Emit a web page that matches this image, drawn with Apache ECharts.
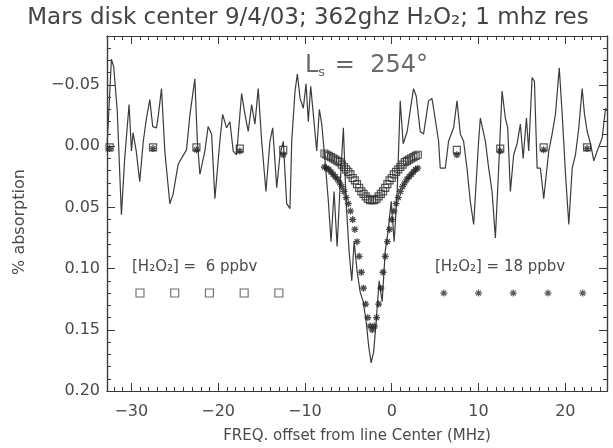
<!DOCTYPE html>
<html><head><meta charset="utf-8">
<script src="https://cdn.jsdelivr.net/npm/echarts@6.0.0/dist/echarts.min.js"></script>
<style>html,body{margin:0;padding:0;background:#fff}#c{width:613px;height:448px}</style>
</head><body><div id="c"></div>
<script>
// ---- data ----
const specX = [-32.78,-32.29,-32.03,-31.62,-31.14,-30.76,-30.26,-29.98,-29.80,-29.43,
-29.03,-28.62,-28.25,-27.87,-27.53,-27.10,-26.89,-26.52,-26.14,-25.56,
-25.18,-24.61,-24.22,-23.64,-23.26,-22.68,-22.39,-22.10,-21.53,-21.15,
-20.75,-20.37,-19.80,-19.48,-19.02,-18.64,-18.26,-17.87,-17.29,-16.91,
-16.53,-16.14,-15.76,-15.38,-14.98,-14.49,-14.03,-13.71,-13.25,-12.87,
-12.49,-12.10,-11.72,-11.52,-11.14,-10.87,-10.56,-10.18,-9.87,-9.61,
-9.33,-9.03,-8.64,-8.34,-8.06,-7.68,-7.30,-6.99,-6.64,-6.29,
-5.95,-5.57,-5.26,-4.91,-4.60,-4.33,-3.99,-3.64,-3.29,-2.95,
-2.66,-2.37,-2.08,-1.79,-1.45,-1.10,-0.75,-0.41,-0.06,0.28,
0.63,0.98,1.15,1.32,1.78,2.13,2.51,2.82,3.28,3.67,
4.24,4.63,4.82,5.40,5.59,6.17,6.55,7.13,7.52,7.90,
8.28,8.67,9.05,9.44,10.01,10.21,10.79,11.17,11.56,11.94,
12.32,12.71,13.09,13.36,13.67,14.05,14.44,14.82,15.14,15.52,
15.78,16.17,16.44,16.75,17.13,17.51,18.09,18.48,18.86,19.30,
19.64,20.02,20.40,20.79,21.17,21.55,21.94,22.21,22.52,22.90,
23.28,23.67,24.25,24.63,24.80];
const specY = [-0.002,-0.071,-0.065,-0.029,0.056,0.010,-0.034,0.004,-0.011,0.004,
0.029,-0.004,-0.023,-0.038,-0.016,-0.015,-0.025,-0.047,0.004,0.047,
0.039,0.015,0.010,0.003,-0.025,-0.055,-0.004,0.023,0.004,-0.016,
-0.010,0.043,-0.004,-0.026,-0.015,-0.020,0.004,0.007,-0.043,-0.026,
-0.012,-0.034,-0.018,-0.047,-0.004,0.037,-0.004,-0.015,0.034,0.007,
-0.004,0.047,0.051,-0.004,-0.045,-0.059,-0.039,-0.031,-0.051,-0.020,
-0.049,-0.026,0.004,-0.030,-0.018,0.012,0.045,0.078,0.037,0.082,
0.033,-0.015,0.045,0.086,0.110,0.078,0.102,0.119,0.127,0.143,
0.163,0.177,0.168,0.143,0.110,0.127,0.086,0.069,0.045,0.078,
0.037,-0.037,-0.038,-0.002,-0.012,-0.029,-0.047,-0.041,-0.012,-0.010,
-0.037,-0.039,-0.031,-0.004,0.018,0.018,-0.004,-0.015,-0.037,-0.010,
-0.004,0.018,0.045,0.064,-0.004,-0.023,-0.004,0.018,0.037,0.075,
0.018,-0.045,-0.023,-0.015,0.037,0.007,-0.002,-0.018,0.010,-0.023,
0.004,-0.056,-0.053,0.018,0.018,0.043,0.004,-0.010,-0.026,-0.064,
-0.026,0.023,0.064,0.018,0.007,-0.015,-0.047,-0.026,-0.012,-0.002,
0.012,0.004,-0.007,-0.031,-0.029];

const modelX = [-32.5,-27.5,-22.5,-17.5,-12.5,
-7.75,-7.5,-7.25,-7,-6.75,-6.5,-6.25,-6,-5.75,-5.5,-5.25,-5,-4.75,-4.5,-4.25,-4,-3.75,-3.5,-3.25,-3,-2.75,-2.5,
-2.25,-2,-1.75,-1.5,-1.25,-1,-0.75,-0.5,-0.25,0,0.25,0.5,0.75,1,1.25,1.5,1.75,2,2.25,2.5,2.75,3,
7.5,12.5,17.5,22.5];
const model6ppbv = [0.001,0.001,0.001,0.002,0.003,
0.006,0.007,0.008,0.009,0.010,0.011,0.012,0.013,0.015,0.017,0.019,0.021,0.023,0.026,0.028,0.031,0.034,0.037,0.039,0.041,0.043,0.044,
0.044,0.044,0.043,0.041,0.039,0.037,0.034,0.031,0.028,0.026,0.023,0.021,0.019,0.017,0.015,0.013,0.012,0.011,0.010,0.009,0.008,0.007,
0.003,0.002,0.001,0.001];
const model18ppbv = [0.002,0.002,0.003,0.004,0.007,
0.017,0.018,0.019,0.021,0.023,0.025,0.027,0.030,0.033,0.037,0.042,0.047,0.053,0.060,0.068,0.078,0.090,0.103,0.116,0.129,0.140,0.147,
0.150,0.147,0.140,0.129,0.116,0.103,0.090,0.078,0.068,0.060,0.053,0.047,0.042,0.037,0.033,0.030,0.027,0.025,0.023,0.021,0.019,0.018,
0.007,0.004,0.003,0.002];

const key6X = [-29,-25,-21,-17,-13];
const key6Y = [0.12,0.12,0.12,0.12,0.12];
const key18X = [6,10,14,18,22];
const key18Y = [0.12,0.12,0.12,0.12,0.12];

const xTickLabels = [-30,-20,-10,0,10,20];
const yTickLabels = [-0.05,0.00,0.05,0.10,0.15,0.20];

const titleText = 'Mars disk center 9/4/03; 362ghz H\u2082O\u2082; 1 mhz res';
const label6 = '[H\u2082O\u2082] =  6 ppbv';
const label18 = '[H\u2082O\u2082] = 18 ppbv';
const xName = 'FREQ. offset from line Center (MHz)';
const yName = '% absorption';

// ---- axis ranges / decoration ----
const X_MIN = -32.8, X_MAX = 24.8, Y_MIN = -0.09, Y_MAX = 0.20;
const xMinor = []; for (let v = -32; v <= 24; v++) xMinor.push(v);
const yMinor = []; for (let i = -9; i <= 20; i++) yMinor.push(+(i * 0.01).toFixed(2));

const INK = '#3a3a3a', TXT = '#4a4a4a', FONT = 'DejaVu Sans';
const zip = (a, b) => a.map((v, i) => [v, b[i]]);
const fmtX = v => v < 0 ? '\u2212' + Math.abs(v) : String(v);
const fmtY = v => (v < -1e-9 ? '\u2212' : '') + Math.abs(v).toFixed(2);

function xAx(grid, pos, ticks, len, labels) {
  return {type:'value', gridIndex:grid, position:pos, min:X_MIN, max:X_MAX,
    axisLine:{show:true, onZero:false, lineStyle:{color:INK, width:1.2}},
    axisTick:{show:true, inside:true, length:len, customValues:ticks, lineStyle:{color:INK, width:1}},
    axisLabel:labels ? {show:true, customValues:xTickLabels, formatter:fmtX, fontSize:16, color:TXT, fontFamily:FONT, margin:13} : {show:false},
    splitLine:{show:false}, minorTick:{show:false}};
}
function yAx(grid, pos, ticks, len, labels) {
  return {type:'value', gridIndex:grid, position:pos, inverse:true, min:Y_MIN, max:Y_MAX,
    axisLine:{show:true, onZero:false, lineStyle:{color:INK, width:1.2}},
    axisTick:{show:true, inside:true, length:len, customValues:ticks, lineStyle:{color:INK, width:1}},
    axisLabel:labels ? {show:true, customValues:yTickLabels, formatter:fmtY, fontSize:16, color:TXT, fontFamily:FONT, margin:7} : {show:false},
    splitLine:{show:false}, minorTick:{show:false}};
}

const gridBox = {left:107, right:6, top:36, bottom:57, containLabel:false};
const asterisk = 'path://M5,0L5,10M0,5L10,5M1.5,1.5L8.5,8.5M1.5,8.5L8.5,1.5';

const chart = echarts.init(document.getElementById('c'), null, {renderer:'canvas'});
chart.setOption({
  animation:false,
  backgroundColor:'#fff',
  grid:[Object.assign({}, gridBox), Object.assign({}, gridBox)],
  xAxis:[
    xAx(0,'bottom',xTickLabels,8,true),
    xAx(0,'top',xTickLabels,8,false),
    xAx(1,'bottom',xMinor,4,false),
    xAx(1,'top',xMinor,4,false)
  ],
  yAxis:[
    yAx(0,'left',yTickLabels,8,true),
    yAx(0,'right',yTickLabels,8,false),
    yAx(1,'left',yMinor,4,false),
    yAx(1,'right',yMinor,4,false)
  ],
  series:[
    {type:'line', xAxisIndex:0, yAxisIndex:0, data:zip(specX, specY), showSymbol:false, symbol:'none',
     lineStyle:{color:'#3c3c3c', width:1.2}, z:2},
    {type:'scatter', xAxisIndex:0, yAxisIndex:0, data:zip(modelX, model6ppbv), symbol:'rect', symbolSize:7,
     itemStyle:{color:'rgba(0,0,0,0)', borderColor:'#2e2e2e', borderWidth:1.2}, z:3},
    {type:'scatter', xAxisIndex:0, yAxisIndex:0, data:zip(modelX, model18ppbv), symbol:asterisk, symbolSize:7,
     itemStyle:{color:'#1e1e1e', borderColor:'#1e1e1e', borderWidth:1.3}, z:4},
    {type:'scatter', xAxisIndex:0, yAxisIndex:0, data:zip(key6X, key6Y), symbol:'rect', symbolSize:8,
     itemStyle:{color:'rgba(0,0,0,0)', borderColor:'#444', borderWidth:1.1}, z:3},
    {type:'scatter', xAxisIndex:0, yAxisIndex:0, data:zip(key18X, key18Y), symbol:asterisk, symbolSize:7,
     itemStyle:{color:'#333', borderColor:'#333', borderWidth:1.2}, z:4}
  ],
  graphic:[
    {type:'text', x:308, y:18, style:{text:titleText, font:'23px "DejaVu Sans"', fill:'#444', align:'center', verticalAlign:'middle'}},
    {type:'text', x:305, y:66, style:{text:'{l|L}{s|s}{e| =  254\u00b0}', fill:'#6a6a6a', align:'left', verticalAlign:'middle',
      rich:{l:{fontSize:24, fontFamily:FONT, fill:'#6a6a6a'}, s:{fontSize:13, fontFamily:FONT, fill:'#6a6a6a', padding:[14,2,0,0]}, e:{fontSize:24, fontFamily:FONT, fill:'#6a6a6a'}}}},
    {type:'text', x:132, y:267, style:{text:label6, font:'15px "DejaVu Sans"', fill:TXT, align:'left', verticalAlign:'middle'}},
    {type:'text', x:435, y:267, style:{text:label18, font:'15px "DejaVu Sans"', fill:TXT, align:'left', verticalAlign:'middle'}},
    {type:'text', x:357, y:436, style:{text:xName, font:'15px "DejaVu Sans"', fill:TXT, align:'center', verticalAlign:'middle'}},
    {type:'text', x:20, y:222, rotation:Math.PI/2, style:{text:yName, font:'16px "DejaVu Sans"', fill:TXT, align:'center', verticalAlign:'middle'}}
  ]
});
</script>
</body></html>
